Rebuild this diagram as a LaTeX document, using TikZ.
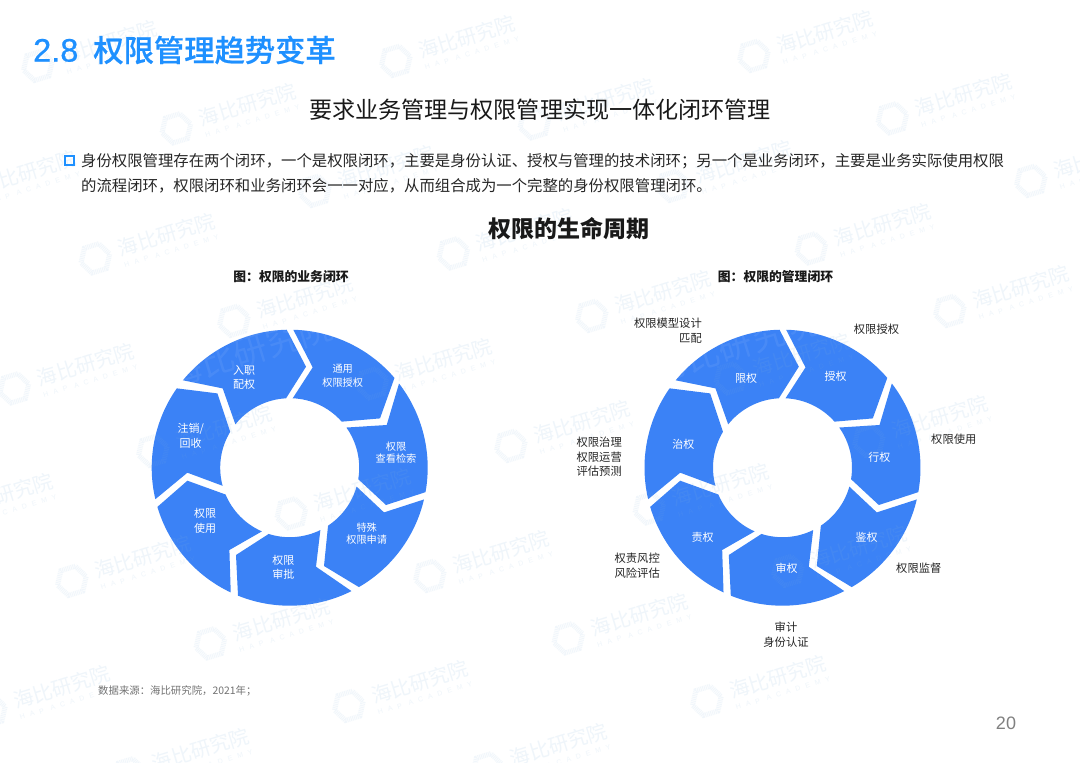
\documentclass[tikz,border=0pt]{standalone}
\usepackage{fontspec}
\setmainfont{Noto Sans CJK SC}
\newfontfamily\titlefont[UprightFont=* Medium, FakeBold=0.5]{Noto Sans CJK SC}
\newfontfamily\latinfont{Liberation Sans}
\newfontfamily\numfont[FakeBold=0.6]{Liberation Sans}
\newfontfamily\wmfont[LetterSpace=75]{Liberation Sans}
\usepackage{tikz}
\usetikzlibrary{shapes.geometric}
\definecolor{titleblue}{HTML}{1E90FF}
\definecolor{ringblue}{HTML}{3B82F6}
\definecolor{wmblue}{HTML}{7FB0DC}

\begin{document}
\begin{tikzpicture}[x=1pt,y=-1pt,%
  ringseg/.style={fill=ringblue},%
  seglabel/.style={inner sep=0pt, text=white, align=center, font=\fontsize{10.2}{14.5}\selectfont},%
  seglarge/.style={inner sep=0pt, text=white, align=center, font=\fontsize{11}{14.5}\selectfont},%
  segshort/.style={inner sep=0pt, text=white, align=center, font=\fontsize{11}{14}\selectfont},%
  outlabel/.style={inner sep=0pt, text=black!85, font=\fontsize{11.3}{14.5}\selectfont},%
  bodyline/.style={inner sep=0pt, anchor=west, text=black!85, font=\fontsize{15.38}{18}\selectfont},%
  charttitle/.style={inner sep=0pt, text=black!90, font=\fontsize{12.8}{14}\selectfont\bfseries},%
  wmtext/.style={inner sep=0pt, text=wmblue, text opacity=0.12, font=\fontsize{20}{22}\selectfont},%
  wmsub/.style={inner sep=0pt, text=wmblue, text opacity=0.12, font=\fontsize{7}{8}\wmfont},%
  wmlogo/.style={regular polygon, regular polygon sides=6, minimum size=30pt, inner sep=0pt, draw=wmblue, draw opacity=0.1, line width=5pt, dash pattern=on 1pt off 0.8pt},%
  wmover/.style={inner sep=0pt, text=white, text opacity=0.07, font=\fontsize{34}{36}\selectfont}%
]
  \useasboundingbox (0,0) rectangle (1080,763);
  \fill[white] (0,0) rectangle (1080,763);
  % rings
  \foreach \cx in {289.7,782.5} {
    \begin{scope}[shift={(\cx,467.7)}]
      \foreach \os/\oe/\tx/\ty/\ie/\is/\nx/\ny in {
        -88.5/-40.6/90.3/-49.3/-41.5/-87.5/23/-100.3,
        -37.6/10.2/96.3/37.3/9.5/-35.3/97/-42.7,
        13.3/59.9/34.3/98.3/56.5/15.8/94.3/44.7,
        63.4/112/-53.7/87.3/107.6/63.8/26.3/99,
        115.3/163.5/-102.3/13/157.3/113.6/-60.3/82.3,
        166.8/215.1/-72.3/-74.3/211.1/164.9/-102.3/5,
        219.3/268.75/16.3/-101/267/218.6/-67/-79.3} {
        \fill[ringseg] (\os:138) arc[start angle=\os, end angle=\oe, radius=138]
          -- (\tx,\ty) -- (\ie:69.5)
          arc[start angle=\ie, end angle=\is, radius=69.5]
          -- (\nx,\ny) -- cycle;
      }
    \end{scope}
  }
  % watermark
  \foreach \i in {-6,...,2} {
    \foreach \j in {-1,...,7} {
      \pgfmathsetmacro{\wx}{825+138.5*\i-81*\j}
      \pgfmathsetmacro{\wy}{32+62.5*\i+130*\j}
      \pgfmathparse{and(and(\wx>-30,\wx<1140),and(\wy>10,\wy<770))}
      \ifnum\pgfmathresult>0
      \begin{scope}[shift={(\wx,\wy)}, rotate=17, transform shape]
        \node[wmtext] (wm\i\j) at (0,0) {海比研究院};
        \node[wmsub] (wmsub\i\j) at (0,17) {HAP ACADEMY};
        \node[wmlogo] (wmlogo\i\j) at (-75,2) {};
      \end{scope}
      \fi
    }
  }
  \node[wmover, rotate=17] (overleft) at (250,350) {海比研究院};
  \node[wmover, rotate=17] (overright) at (735,345) {海比研究院};
  % header
  \node[inner sep=0pt, anchor=west, text=titleblue, font=\fontsize{30.3}{32}\titlefont] (pagetitle) at (33,50) {{\numfont\fontsize{32.5}{32}\selectfont 2.8}\hspace{15pt}权限管理趋势变革};
  \node[inner sep=0pt, text=black!90, font=\fontsize{23.1}{26}\selectfont] (subtitle) at (540,110) {要求业务管理与权限管理实现一体化闭环管理};
  \node[draw=titleblue, line width=2.6pt, minimum size=9pt, inner sep=0pt] (bullet) at (69.5,160.5) {};
  \node[bodyline] (bodyone) at (81,161) {身份权限管理存在两个闭环，一个是权限闭环，主要是身份认证、授权与管理的技术闭环；另一个是业务闭环，主要是业务实际使用权限};
  \node[bodyline] (bodytwo) at (81,186) {的流程闭环，权限闭环和业务闭环会一一对应，从而组合成为一个完整的身份权限管理闭环。};
  \node[inner sep=0pt, text=black!90, font=\fontsize{23}{26}\selectfont\bfseries] (lifetitle) at (568.5,229) {权限的生命周期};
  \node[charttitle] (leftchart) at (291,277) {图：权限的业务闭环};
  \node[charttitle] (rightchart) at (775.5,277) {图：权限的管理闭环};
  % left ring labels
  \node[seglabel] (tongyong) at (342.7,376) {通用\\权限授权};
  \node[seglabel, font=\fontsize{10.2}{12}\selectfont] (chakan) at (396,452.5) {权限\\查看检索};
  \node[seglabel, font=\fontsize{10.2}{12.7}\selectfont] (teshu) at (366.7,533.7) {特殊\\权限申请};
  \node[seglarge] (shenpi) at (283.3,567.5) {权限\\审批};
  \node[seglarge] (shiyong) at (205,521) {权限\\使用};
  \node[seglarge] (zhuxiao) at (190.7,436) {注销/\\回收};
  \node[seglarge] (ruzhi) at (244,377.7) {入职\\配权};
  % right ring labels
  \node[segshort] (xianquan) at (746,378.3) {限权};
  \node[segshort] (shouquan) at (835.7,376) {授权};
  \node[segshort] (xingquan) at (879.3,457.3) {行权};
  \node[segshort] (jianquan) at (866.7,537.3) {鉴权};
  \node[segshort] (shenquan) at (786.7,568.3) {审权};
  \node[segshort] (zequan) at (702.7,537.3) {责权};
  \node[segshort] (zhiquan) at (683.3,444) {治权};
  % outside labels
  \node[outlabel, align=right, anchor=east] (moxing) at (702,330.5) {权限模型设计\\匹配};
  \node[outlabel] (grant) at (876.5,329.3) {权限授权};
  \node[outlabel, anchor=west] (use) at (931,439) {权限使用};
  \node[outlabel, anchor=west] (monitor) at (896,568) {权限监督};
  \node[outlabel, align=center] (audit) at (786,634.5) {审计\\身份认证};
  \node[outlabel, align=right, anchor=east] (risk) at (660,565.5) {权责风控\\风险评估};
  \node[outlabel, align=right, anchor=east] (govern) at (622,457) {权限治理\\权限运营\\评估预测};
  % footer
  \node[inner sep=0pt, anchor=west, text=black!55, font=\fontsize{10.4}{12}\selectfont] (source) at (98,691) {数据来源：海比研究院，2021年；};
  \node[inner sep=0pt, text=black!50, font=\fontsize{18}{20}\latinfont] (pagenum) at (1006,723) {20};
\end{tikzpicture}
\end{document}
